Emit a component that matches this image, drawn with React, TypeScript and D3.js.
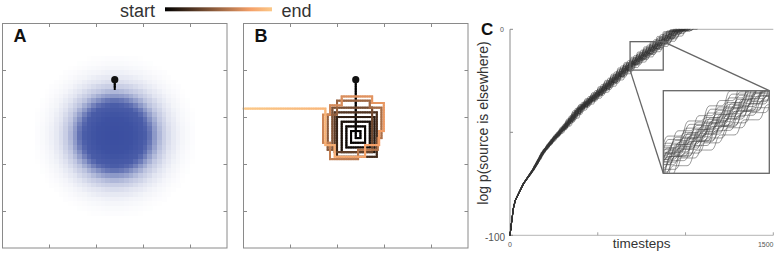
import React from 'react';
import * as d3 from 'd3';

const W = 781;
const H = 253;

// legend (copper colormap)
const legendLabels = ['start', 'end'];
const copperStops = [0, 0.8, 1];
const copperColors = ['#000000', '#f5a068', '#fbc888'];

// panels A and B live on a 48 x 48 grid
const gridSize = 48;
const gridTicks = [10, 20, 30, 40];
const agentStart: [number, number] = [24, 12];
const beliefCenter: [number, number] = [24, 24];
const beliefRadius = [0, 4, 6.5, 7.5, 8.5, 10, 12, 14, 16, 18];
const beliefLevel = [1, 0.98, 0.92, 0.8, 0.58, 0.32, 0.15, 0.06, 0.02, 0];
const stepsShownA = 2;
const trajectory: [number, number][] = [
  [24, 12], [24, 24.5], [25, 24.5], [25, 23], [23, 23], [23, 25.5], [26, 25.5], [26, 22],
  [22, 22], [22, 26.5], [27, 26.5], [27, 21], [21, 21], [21, 27.5], [28, 27.5], [28, 20],
  [20, 20], [20, 28.5], [28.5, 28.5], [28.5, 19], [19.5, 19], [19.5, 27.5], [27.5, 27.5], [27.5, 18],
  [19, 18], [19, 27], [18, 27], [18, 19.5], [20, 19.5], [20, 16.5], [27, 16.5], [27, 18],
  [29.5, 18], [29.5, 24.5], [28.7, 24.5], [28.7, 27], [24.5, 27], [24.5, 29], [18.5, 29], [18.5, 25.5],
  [17, 25.5], [17, 19.5], [18.5, 19.5], [18.5, 17.5], [21, 17.5], [21, 15.6], [27.5, 15.6], [27.5, 17],
  [30, 17], [30, 23], [29, 23], [29, 26], [26, 26], [26, 28.5], [19.5, 28.5], [19.5, 26],
  [17.5, 26], [17.5, 18.2], [0, 18.2],
];
const colorGamma = 1.4;

// panel C: mean belief curve, plus per-trace spread
const meanT = [0, 10, 19, 30, 76, 133, 190, 247, 323, 399, 532, 684, 836, 950, 1000, 1500];
const meanV = [-100, -93, -87, -83, -75, -68, -59.5, -53.5, -46.5, -39, -29.5, -18, -8.4, -1.2, 0, 0];
const traceRate = [
  -0.05, -0.041, -0.032, -0.025, -0.019, -0.013, -0.008, -0.003, 0.001, 0.005,
  0.009, 0.013, 0.017, 0.021, 0.025, 0.029, 0.033, 0.038, 0.043, 0.048,
  0.054, 0.06, 0.067, 0.075, -0.022, 0.02, -0.001, 0.031, 0.015, -0.01,
];
const tracePhase = [
  3, 24, 11, 31, 17, 1, 35, 20, 8, 27, 14, 33, 5, 22, 12,
  29, 2, 18, 37, 9, 25, 15, 32, 6, 21, 28, 0, 38, 10, 19,
];
const stepPeriod = 40;
const xTicksC = [500, 1000, 1500];
const yTicksC = [-100, -50, 0];
const zoomT: [number, number] = [684, 873];
const zoomV: [number, number] = [-19.8, -6];

const copper = d3.scaleLinear<string>().domain(copperStops).range(copperColors);
const font = 'Liberation Sans, Arial';

const panelTop = 23.5;
const panelSize = 224.5;
const panelLeft = [2.5, 243.5];

function gridScales(left: number) {
  const x = d3.scaleLinear().domain([0, gridSize]).range([left, left + panelSize]);
  const y = d3.scaleLinear().domain([0, gridSize]).range([panelTop, panelTop + panelSize]);
  return { x, y };
}

function Frame({ left, label }: { left: number; label: string }) {
  const { x, y } = gridScales(left);
  const tl = 3.5;
  const c = '#8a8a8a';
  return (
    <g>
      <rect x={left} y={panelTop} width={panelSize} height={panelSize} fill="none" stroke={c} strokeWidth={1} />
      {gridTicks.map((t) => (
        <g key={t} stroke={c} strokeWidth={1}>
          <line x1={Math.round(x(t)) + 0.5} x2={Math.round(x(t)) + 0.5} y1={panelTop} y2={panelTop + tl} />
          <line x1={Math.round(x(t)) + 0.5} x2={Math.round(x(t)) + 0.5} y1={panelTop + panelSize} y2={panelTop + panelSize - tl} />
          <line y1={Math.round(y(t)) + 0.5} y2={Math.round(y(t)) + 0.5} x1={left} x2={left + tl} />
          <line y1={Math.round(y(t)) + 0.5} y2={Math.round(y(t)) + 0.5} x1={left + panelSize} x2={left + panelSize - tl} />
        </g>
      ))}
      <text x={left + 11} y={42} fontFamily={font} fontWeight="bold" fontSize={18} fill="#111">
        {label}
      </text>
    </g>
  );
}

function Belief({ left }: { left: number }) {
  const { x, y } = gridScales(left);
  const level = d3.scaleLinear().domain(beliefRadius).range(beliefLevel).clamp(true);
  const blue = d3.interpolateRgb('#ffffff', '#3a4ea0');
  const cells: JSX.Element[] = [];
  const cw = x(1) - x(0);
  for (let i = 0; i < gridSize; i++) {
    for (let j = 0; j < gridSize; j++) {
      const d = Math.hypot(i + 0.5 - beliefCenter[0], j + 0.5 - beliefCenter[1]);
      const v = level(d);
      if (v < 0.005) continue;
      cells.push(
        <rect key={i + '-' + j} x={x(i)} y={y(j)} width={cw + 0.4} height={cw + 0.4} fill={blue(v)} />
      );
    }
  }
  return <g shapeRendering="crispEdges">{cells}</g>;
}

function Trajectory({ left, maxLen }: { left: number; maxLen?: number }) {
  const { x, y } = gridScales(left);
  let total = 0;
  for (let k = 1; k < trajectory.length; k++) {
    total += Math.hypot(trajectory[k][0] - trajectory[k - 1][0], trajectory[k][1] - trajectory[k - 1][1]);
  }
  const limit = maxLen ?? total;
  const pieces: JSX.Element[] = [];
  let acc = 0;
  const piece = 0.5;
  for (let k = 1; k < trajectory.length; k++) {
    const [x0, y0] = trajectory[k - 1];
    const [x1, y1] = trajectory[k];
    const len = Math.hypot(x1 - x0, y1 - y0);
    const n = Math.max(1, Math.ceil(len / piece));
    for (let s = 0; s < n; s++) {
      const a = s / n;
      const b = (s + 1) / n;
      const pos = acc + len * a;
      if (pos >= limit) break;
      pieces.push(
        <line
          key={k + '-' + s}
          x1={x(x0 + (x1 - x0) * a)}
          y1={y(y0 + (y1 - y0) * a)}
          x2={x(x0 + (x1 - x0) * b)}
          y2={y(y0 + (y1 - y0) * b)}
          stroke={copper(Math.pow(pos / total, colorGamma))}
          strokeWidth={2}
          strokeLinecap="square"
        />
      );
    }
    acc += len;
  }
  return (
    <g>
      {pieces}
      <circle cx={x(agentStart[0])} cy={y(agentStart[1])} r={3.6} fill="#111" />
    </g>
  );
}

const meanCurve = d3.scaleLinear().domain(meanT).range(meanV).clamp(true);

function tracePoints(i: number): [number, number][] {
  const pts: [number, number][] = [];
  for (let t = 0; t <= 1200; t += 2) {
    const amp = Math.min(1, t / 400);
    const u = t * (1 + traceRate[i] * amp) + 8;
    const f = (u + tracePhase[i]) / stepPeriod;
    const frac = f - Math.floor(f);
    const w = frac < 0.5 ? 0 : d3.easeCubicInOut((frac - 0.5) / 0.5);
    const v = meanCurve(Math.max(0, u - 8 * (1 - amp) + amp * (w - frac) * stepPeriod));
    pts.push([t, Math.min(0, v)]);
    if (v >= 0) break;
  }
  return pts;
}

function PanelC() {
  const x = d3.scaleLinear().domain([0, 1500]).range([510, 773.3]);
  const y = d3.scaleLinear().domain([-100, 0]).range([235.3, 29.3]);
  const ix = d3.scaleLinear().domain(zoomT).range([663.3, 769.3]);
  const iy = d3.scaleLinear().domain(zoomV).range([173.3, 90.7]);
  const traces = traceRate.map((_, i) => tracePoints(i));
  const line = d3.line<[number, number]>().x((d) => x(d[0])).y((d) => y(d[1]));
  const iline = d3.line<[number, number]>().x((d) => ix(d[0])).y((d) => iy(d[1]));
  const tailStart = d3.min(traces, (tr) => tr[tr.length - 1][0]) ?? 1000;
  const axisC = '#8a8a8a';
  const boxC = '#666';
  const bx0 = x(zoomT[0]);
  const bx1 = x(zoomT[1]);
  const by0 = y(zoomV[1]);
  const by1 = y(zoomV[0]);
  return (
    <g>
      <defs>
        <clipPath id="insetClip">
          <rect x={663.3} y={90.7} width={106} height={82.6} />
        </clipPath>
      </defs>
      <line x1={510} x2={510} y1={29.3} y2={235.3} stroke={axisC} strokeWidth={1} />
      <line x1={510} x2={773.3} y1={235.3} y2={235.3} stroke="#b5b5b5" strokeWidth={1} />
      {yTicksC.map((t) => (
        <line key={t} x1={510} x2={513} y1={y(t)} y2={y(t)} stroke={axisC} strokeWidth={1} />
      ))}
      {xTicksC.map((t) => (
        <line key={t} x1={x(t)} x2={x(t)} y1={235.3} y2={232.3} stroke="#a0a0a0" strokeWidth={1} />
      ))}
      <line x1={x(tailStart)} x2={x(1500)} y1={y(0)} y2={y(0)} stroke="#b0b0b0" strokeWidth={1} />
      <g fill="none" stroke="#333" strokeWidth={0.6} strokeOpacity={0.85}>
        {traces.map((tr, i) => (
          <path key={i} d={line(tr) ?? ''} />
        ))}
      </g>
      <g fill="none" stroke={boxC} strokeWidth={1.3}>
        <rect x={bx0} y={by0} width={bx1 - bx0} height={by1 - by0} />
        <line x1={bx1} y1={by0} x2={769.3} y2={90.7} />
        <line x1={bx0} y1={by1} x2={663.3} y2={173.3} />
      </g>
      <rect x={663.3} y={90.7} width={106} height={82.6} fill="#fff" />
      <g clipPath="url(#insetClip)" fill="none" stroke="#444" strokeWidth={0.6} strokeOpacity={0.9}>
        {traces.map((tr, i) => (
          <path key={i} d={iline(tr) ?? ''} />
        ))}
      </g>
      <rect x={663.3} y={90.7} width={106} height={82.6} fill="none" stroke={boxC} strokeWidth={1.3} />
      <text x={481} y={35} fontFamily={font} fontWeight="bold" fontSize={17} fill="#111">C</text>
      <text x={504} y={31.5} fontFamily={font} fontSize={7} fill="#555" textAnchor="end">0</text>
      <text x={505} y={240.5} fontFamily={font} fontSize={10} fill="#555" textAnchor="end">-100</text>
      <text x={510} y={247} fontFamily={font} fontSize={7} fill="#555" textAnchor="middle">0</text>
      <text x={773.5} y={247} fontFamily={font} fontSize={7} fill="#555" textAnchor="end">1500</text>
      <text x={641.7} y={248} fontFamily={font} fontSize={13.5} fill="#333" textAnchor="middle">timesteps</text>
      <text
        transform="translate(488,123) rotate(-90)"
        fontFamily={font}
        fontSize={14}
        fill="#333"
        textAnchor="middle"
      >
        log p(source is elsewhere)
      </text>
    </g>
  );
}

function Legend() {
  return (
    <g>
      <defs>
        <linearGradient id="copperGrad" x1="0" x2="1" y1="0" y2="0">
          {copperStops.map((s, i) => (
            <stop key={s} offset={s} stopColor={copperColors[i]} />
          ))}
        </linearGradient>
      </defs>
      <text x={155} y={16.5} fontFamily={font} fontSize={18} fill="#333" textAnchor="end">{legendLabels[0]}</text>
      <rect x={165} y={7.3} width={107} height={4} fill="url(#copperGrad)" />
      <text x={281.5} y={16.5} fontFamily={font} fontSize={18} fill="#333">{legendLabels[1]}</text>
    </g>
  );
}

export default function App() {
  return (
    <svg width={W} height={H} style={{ position: 'absolute', left: 0, top: 0, background: '#fff' }}>
      <Legend />
      <Belief left={panelLeft[0]} />
      <Trajectory left={panelLeft[0]} maxLen={stepsShownA} />
      <Frame left={panelLeft[0]} label="A" />
      <Trajectory left={panelLeft[1]} />
      <Frame left={panelLeft[1]} label="B" />
      <PanelC />
    </svg>
  );
}
